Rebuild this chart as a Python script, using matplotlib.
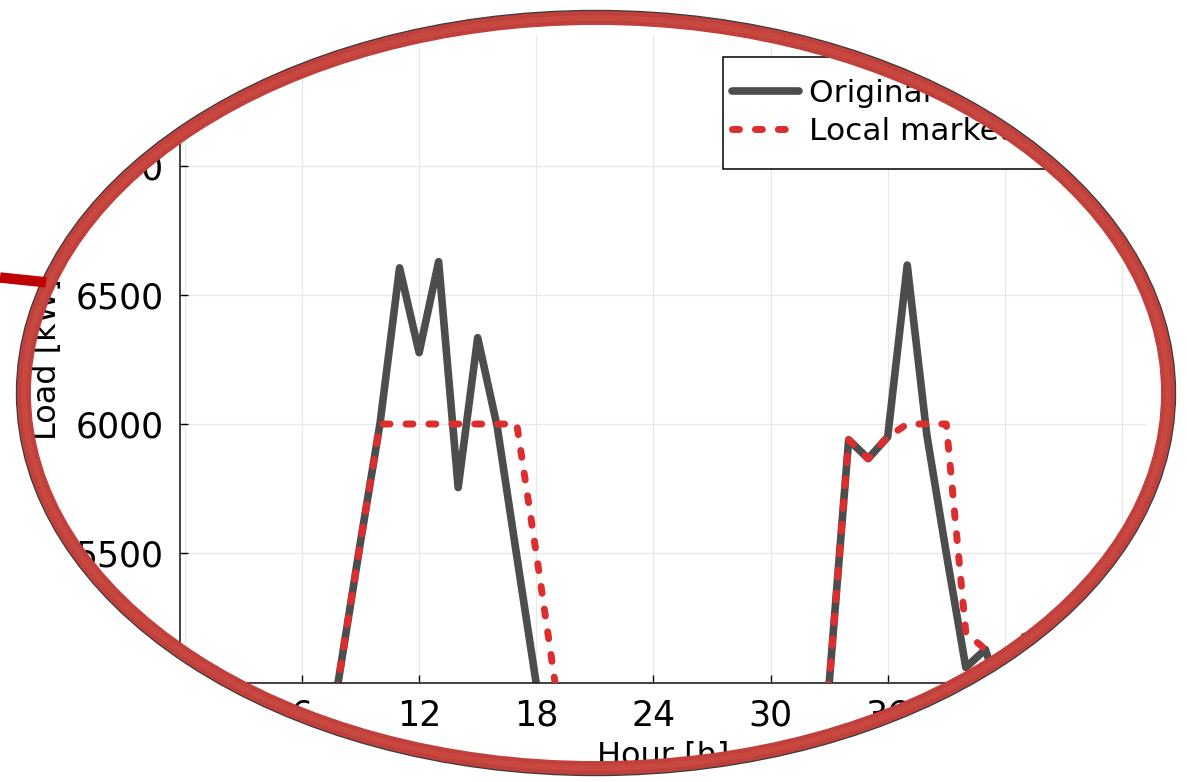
import numpy as np
import matplotlib
matplotlib.use("Agg")
import matplotlib.pyplot as plt
from matplotlib.patches import Ellipse, PathPatch, Rectangle
from matplotlib.path import Path

# ------------------------------------------------------------
# data (hourly load, kW) - values below 5000 sit outside the zoomed view
# ------------------------------------------------------------
hours = list(range(49))
original_load = [4550, 4400, 4300, 4250, 4300, 4450, 4550, 4600, 5070, 5545,
                 6003, 6604, 6276, 6628, 5754, 6334, 5990, 5490, 4995, 4800,
                 4700, 4650, 4550, 4450, 4350, 4300, 4250, 4300, 4400, 4550,
                 4700, 4800, 4880, 4995, 5939, 5866, 5950, 6615, 5960, 5500,
                 5058, 5128, 4900, 5178, 4950, 4800, 4700, 4600, 4550]
local_market = [4550, 4400, 4300, 4250, 4300, 4450, 4550, 4600, 5070, 5545,
                6000, 6000, 6000, 6000, 6000, 6000, 6000, 6000, 5500, 4980,
                4700, 4650, 4550, 4450, 4350, 4300, 4250, 4300, 4400, 4550,
                4700, 4800, 4880, 4995, 5939, 5866, 5950, 6000, 6000, 6000,
                5193, 5128, 4900, 4950, 4950, 4800, 4700, 4600, 4550]
labels = ["Original load", "Local market"]
xticks = [0, 6, 12, 18, 24, 30, 36, 42, 48]
yticks = [5000, 5500, 6000, 6500, 7000]

W, H = 1187, 782
plt.rcParams['font.family'] = ['DejaVu Sans']
plt.rcParams['lines.scale_dashes'] = False

fig = plt.figure(figsize=(W / 100, H / 100), dpi=100)
fig.patch.set_facecolor('white')

# magnified chart (pixel box 180..1147 x 35..683)
ax = fig.add_axes([180 / W, 1 - 683 / H, (1147 - 180) / W, (683 - 35) / H])
ax.plot(hours, original_load, color='#4d4d4d', lw=5.5, label=labels[0],
        solid_capstyle='round', solid_joinstyle='round', zorder=2)
ax.plot(hours, local_market, color='#dc2e2e', lw=5.0, label=labels[1],
        linestyle=(0, (5, 11.5)), dash_capstyle='round', dash_joinstyle='round', zorder=3)

ax.set_xlim(-0.246, 49.28)
ax.set_ylim(4998, 7505)
ax.set_xticks(xticks)
ax.set_yticks(yticks)
ax.grid(True, color='#e8e8e8', lw=0.9)
ax.set_axisbelow(True)
for s in ['top', 'right']:
    ax.spines[s].set_visible(False)
for s in ['left', 'bottom']:
    ax.spines[s].set_linewidth(1.2)
    ax.spines[s].set_color('#222222')
ax.tick_params(direction='in', length=6, width=1, labelsize=25)
ax.tick_params(axis='x', pad=11.5)
ax.tick_params(axis='y', pad=12)
ax.set_xlabel("Hour [h]", fontsize=23, labelpad=6)
ax.set_ylabel("Load [kW]", fontsize=23, labelpad=9)

# legend box drawn by hand, entries placed inside it
ax.add_patch(Rectangle((723 / W, 1 - 169 / H), 700 / W, 112 / H, transform=fig.transFigure,
                       facecolor='white', edgecolor='black', lw=1.1, clip_on=False, zorder=4))
leg = ax.legend(loc='center left', bbox_to_anchor=(732 / W, 1 - 112.5 / H),
                bbox_transform=fig.transFigure, borderaxespad=0, borderpad=0,
                frameon=False, fontsize=22.5, handlelength=2.15,
                handletextpad=0.32, labelspacing=0.28)
leg.set_zorder(5)

# ------------------------------------------------------------
# magnifier overlay in pixel coordinates
# ------------------------------------------------------------
ov = fig.add_axes([0, 0, 1, 1], zorder=10)
ov.set_xlim(0, W)
ov.set_ylim(H, 0)
ov.axis('off')
ov.patch.set_alpha(0)

cx, cy, ea, eb = 596, 393, 572, 375
t = np.linspace(2 * np.pi, 0, 500)
ell = np.column_stack([cx + ea * np.cos(t), cy + eb * np.sin(t)])
rect = np.array([[-20, -20], [W + 20, -20], [W + 20, H + 20], [-20, H + 20], [-20, -20]])
verts = np.vstack([rect, ell, ell[:1]])
codes = ([Path.MOVETO] + [Path.LINETO] * 3 + [Path.CLOSEPOLY]
         + [Path.MOVETO] + [Path.LINETO] * (len(ell) - 1) + [Path.CLOSEPOLY])
ov.add_patch(PathPatch(Path(verts, codes), facecolor='white', edgecolor='none'))

# callout line to the left
ov.plot([0, 46], [277.5, 282.3], color='#c00000', lw=7.5, solid_capstyle='butt')

ov.add_patch(Ellipse((cx, cy), 2 * ea + 2.5, 2 * eb + 2.5, fill=False,
                     edgecolor='#3a3a3a', lw=10))
ov.add_patch(Ellipse((cx, cy), 2 * ea, 2 * eb, fill=False,
                     edgecolor='#c0403b', lw=10))
ov.add_patch(Ellipse((cx, cy), 2 * ea, 2 * eb, fill=False,
                     edgecolor='#c84740', lw=4))

fig.savefig("out.png", dpi=100)
